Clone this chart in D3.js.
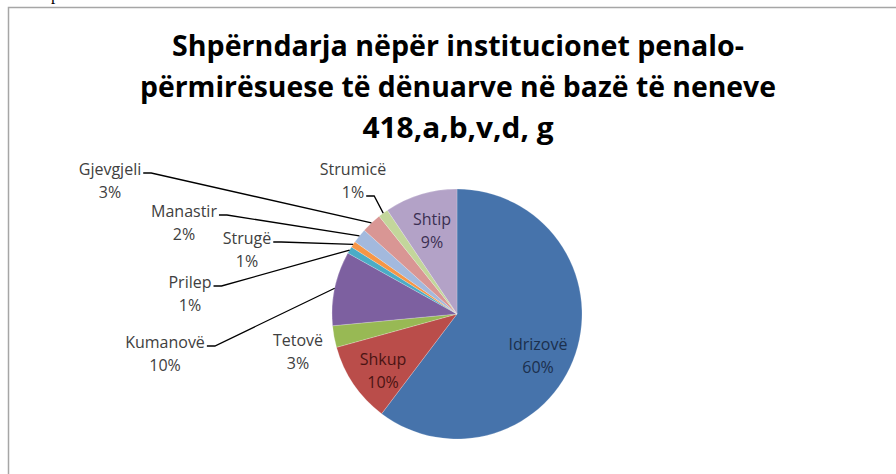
<!DOCTYPE html>
<html>
<head>
<meta charset="utf-8">
<script src="https://cdn.jsdelivr.net/npm/d3@7"></script>
<style>
  body { margin: 0; background: #fff; }
  svg { display: block; }
</style>
</head>
<body>
<svg id="chart"></svg>
<script>
// data (share of convicts, %)
const institutions = ["Idrizovë", "Shkup", "Tetovë", "Kumanovë", "Prilep", "Strugë", "Manastir", "Gjevgjeli", "Strumicë", "Shtip"];
const shares = [60.3, 10.4, 2.8, 9.6, 0.9, 0.8, 1.9, 2.6, 1.3, 9.4];
const sliceColors = ["#4673ab", "#ba4d4a", "#98b954", "#7d60a0", "#4bacc6", "#f79646", "#a3b9dd", "#d99694", "#c3d69b", "#b3a2c7"];
const titleLines = ["Shpërndarja nëpër institucionet penalo-", "përmirësuese të dënuarve në bazë të neneve", "418,a,b,v,d, g"];

// label placement (Excel put some labels inside, others outside with leaders)
const insideLabels = {
  "Idrizovë": {x: 538, y: 350, fill: "#1b2f4d"},
  "Shkup":    {x: 383, y: 365, fill: "#4a1413"},
  "Shtip":    {x: 432, y: 225, fill: "#3b2f52"}
};
const outsideLabels = {
  "Gjevgjeli": {x: 110, y: 175, leader: 1},
  "Manastir":  {x: 184, y: 217, leader: 1},
  "Strugë":    {x: 247, y: 244, leader: 1},
  "Prilep":    {x: 190, y: 288, leader: 1},
  "Kumanovë":  {x: 165, y: 348, leader: 1},
  "Tetovë":    {x: 298, y: 346, leader: 0},
  "Strumicë":  {x: 353, y: 175, leader: 2}
};

const width = 896, height = 474;
const cx = 457, cy = 314, radius = 125;
const lineGap = 23;

const svg = d3.select("#chart")
  .attr("width", width)
  .attr("height", height)
  .style("font-family", "'Open Sans', sans-serif");

// stray glyph from the page above the chart
svg.append("text")
  .attr("x", 51).attr("y", -0.5)
  .style("font-family", "'Liberation Serif', serif")
  .style("font-size", "17px")
  .text("p");

// chart frame (cut at right / bottom)
svg.append("path")
  .attr("d", "M8.5," + height + "V7.5H" + width)
  .attr("fill", "none")
  .attr("stroke", "#a6a6a6")
  .attr("stroke-width", 1.5);

// title
const titleWidths = [572, 636, 191];
svg.append("g").selectAll("text")
  .data(titleLines)
  .enter()
  .append("text")
  .attr("x", 458)
  .attr("y", (d, i) => 56 + i * 41)
  .attr("text-anchor", "middle")
  .attr("textLength", (d, i) => titleWidths[i])
  .attr("lengthAdjust", "spacingAndGlyphs")
  .style("font-size", "28px")
  .style("font-weight", "bold")
  .attr("fill", "#000")
  .text(d => d);

const data = institutions.map((name, i) => ({name: name, value: shares[i], color: sliceColors[i]}));
const total = d3.sum(shares);

const pie = d3.pie().sort(null).value(d => d.value);
const arcs = pie(data);
const arc = d3.arc().innerRadius(0).outerRadius(radius);

const gPie = svg.append("g").attr("transform", "translate(" + cx + "," + cy + ")");
gPie.selectAll("path")
  .data(arcs)
  .enter()
  .append("path")
  .attr("d", arc)
  .attr("fill", d => d.data.color)
  .attr("stroke", "#ffffff")
  .attr("stroke-opacity", 0.35)
  .attr("stroke-width", 0.6);

const pct = d => Math.round(d.data.value / total * 100) + "%";

// inside labels
arcs.filter(d => insideLabels[d.data.name]).forEach(function(d) {
  const p = insideLabels[d.data.name];
  const t = svg.append("text")
    .attr("text-anchor", "middle")
    .attr("fill", p.fill)
    .style("font-size", "16px");
  t.append("tspan").attr("x", p.x).attr("y", p.y).text(d.data.name);
  t.append("tspan").attr("x", p.x).attr("y", p.y + lineGap).text(pct(d));
});

// outside labels + leader lines
arcs.filter(d => outsideLabels[d.data.name]).forEach(function(d) {
  const p = outsideLabels[d.data.name];
  const t1 = svg.append("text")
    .attr("x", p.x).attr("y", p.y)
    .attr("text-anchor", "middle")
    .attr("fill", "#404040")
    .style("font-size", "16px")
    .text(d.data.name);
  const t2 = svg.append("text")
    .attr("x", p.x).attr("y", p.y + lineGap)
    .attr("text-anchor", "middle")
    .attr("fill", "#404040")
    .style("font-size", "16px")
    .text(pct(d));
  if (!p.leader) return;

  const ref = p.leader === 1 ? t1 : t2;
  const bx = p.x + ref.node().getComputedTextLength() / 2 + 2;
  const by = (p.leader === 1 ? p.y : p.y + lineGap) - 2;
  const mid = (d.startAngle + d.endAngle) / 2;
  const ex = cx + radius * Math.sin(mid);
  const ey = cy - radius * Math.cos(mid);
  svg.append("path")
    .attr("d", d3.line()([[bx, by], [bx + 8, by], [ex, ey]]))
    .attr("fill", "none")
    .attr("stroke", "#000")
    .attr("stroke-width", 1.3);
});
</script>
</body>
</html>
